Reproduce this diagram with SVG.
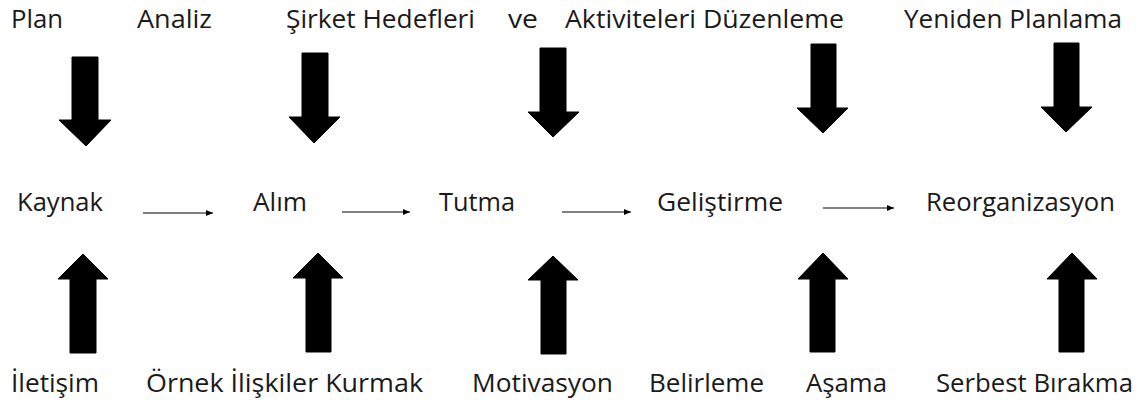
<svg xmlns="http://www.w3.org/2000/svg" width="1144" height="403" viewBox="0 0 1144 403">
<style>
text{font-family:"Open Sans","Noto Sans","Liberation Sans",sans-serif;font-size:25px;fill:#1a1a1a}
.blk{fill:#000;stroke:#000;stroke-width:1}
.thin{stroke:#000;stroke-width:1.2;fill:none;marker-end:url(#ah)}
</style>
<defs>
<marker id="ah" markerUnits="userSpaceOnUse" markerWidth="8" markerHeight="8" refX="7" refY="4" orient="auto">
<path d="M0,1 L7,4 L0,7 Z" fill="#000"/>
</marker>
</defs>
<rect width="1144" height="403" fill="#fff"/>
<g id="top-labels">
<g id="n-plan"><text x="11" y="28" textLength="52" lengthAdjust="spacingAndGlyphs">Plan</text></g>
<g id="n-analiz"><text x="137" y="28" textLength="75" lengthAdjust="spacingAndGlyphs">Analiz</text></g>
<g id="n-sirket"><text x="286" y="28" textLength="189" lengthAdjust="spacingAndGlyphs">Şirket Hedefleri</text></g>
<g id="n-ve"><text x="508" y="28" textLength="30" lengthAdjust="spacingAndGlyphs">ve</text></g>
<g id="n-aktiviteleri"><text x="565" y="28" textLength="279" lengthAdjust="spacingAndGlyphs">Aktiviteleri Düzenleme</text></g>
<g id="n-yeniden"><text x="904" y="28" textLength="218" lengthAdjust="spacingAndGlyphs">Yeniden Planlama</text></g>
</g>
<g id="middle-labels">
<g id="n-kaynak"><text x="17" y="211" textLength="86" lengthAdjust="spacingAndGlyphs">Kaynak</text></g>
<g id="n-alim"><text x="253" y="211" textLength="54" lengthAdjust="spacingAndGlyphs">Alım</text></g>
<g id="n-tutma"><text x="439" y="211" textLength="76" lengthAdjust="spacingAndGlyphs">Tutma</text></g>
<g id="n-gelistirme"><text x="657" y="211" textLength="126" lengthAdjust="spacingAndGlyphs">Geliştirme</text></g>
<g id="n-reorg"><text x="926" y="211" textLength="189" lengthAdjust="spacingAndGlyphs">Reorganizasyon</text></g>
</g>
<g id="bottom-labels">
<g id="n-iletisim"><text x="11" y="392" textLength="88" lengthAdjust="spacingAndGlyphs">İletişim</text></g>
<g id="n-ornek"><text x="146" y="392" textLength="277" lengthAdjust="spacingAndGlyphs">Örnek İlişkiler Kurmak</text></g>
<g id="n-motivasyon"><text x="472" y="392" textLength="141" lengthAdjust="spacingAndGlyphs">Motivasyon</text></g>
<g id="n-belirleme"><text x="649" y="392" textLength="115" lengthAdjust="spacingAndGlyphs">Belirleme</text></g>
<g id="n-asama"><text x="806" y="392" textLength="81" lengthAdjust="spacingAndGlyphs">Aşama</text></g>
<g id="n-serbest"><text x="936" y="392" textLength="197" lengthAdjust="spacingAndGlyphs">Serbest Bırakma</text></g>
</g>
<g id="connectors">
<line class="thin" x1="143" y1="213" x2="213" y2="213"/>
<line class="thin" x1="342" y1="212" x2="410" y2="212"/>
<line class="thin" x1="562" y1="212" x2="631" y2="212"/>
<line class="thin" x1="823" y1="208" x2="894" y2="208"/>
<g id="down-arrows">
<polygon class="blk" points="72,57 98,57 98,120 111,120 86,146 59,120 72,120"/>
<polygon class="blk" points="302,53 328,53 328,117 340,117 314,143 289,117 302,117"/>
<polygon class="blk" points="540,48 566,48 566,112 579,112 553,137 528,112 540,112"/>
<polygon class="blk" points="811,44 836,44 836,108 848,108 823,133 797,108 811,108"/>
<polygon class="blk" points="1054,43 1079,43 1079,107 1092,107 1066,132 1041,107 1054,107"/>
</g>
<g id="up-arrows">
<polygon class="blk" points="70,353 96,353 96,279 108,279 83,254 58,279 70,279"/>
<polygon class="blk" points="306,352 331,352 331,278 343,278 318,253 293,278 306,278"/>
<polygon class="blk" points="541,354 566,354 566,280 578,280 553,256 528,280 541,280"/>
<polygon class="blk" points="810,352 835,352 835,279 848,279 823,253 798,279 810,279"/>
<polygon class="blk" points="1059,352 1084,352 1084,279 1097,279 1072,253 1047,279 1059,279"/>
</g>
</g>
</svg>
